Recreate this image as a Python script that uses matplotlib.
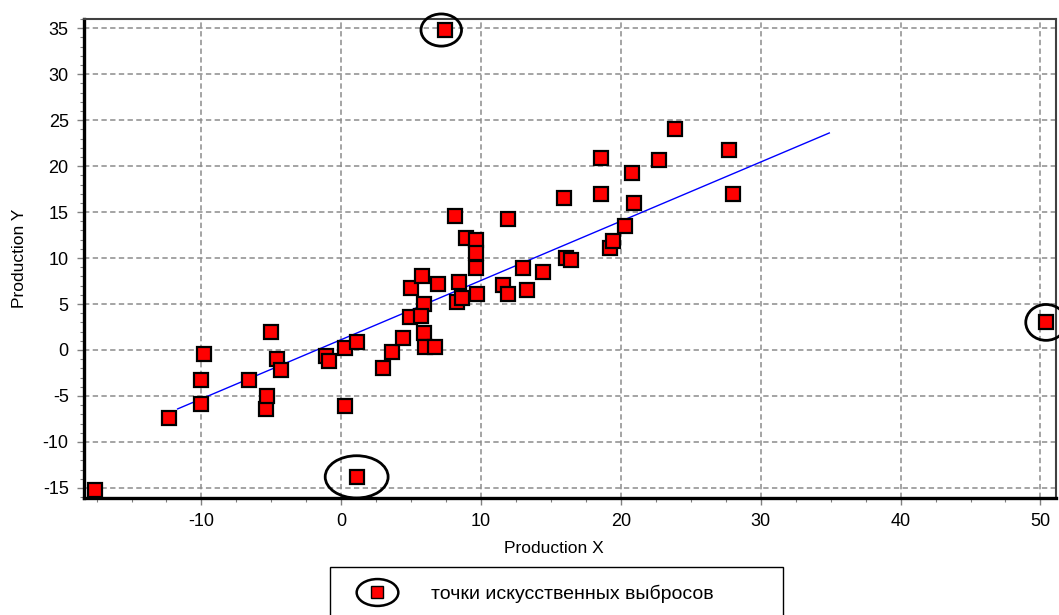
import numpy as np
import matplotlib.pyplot as plt
from matplotlib.lines import Line2D
from matplotlib.patches import Ellipse
from matplotlib.path import Path
from matplotlib.legend_handler import HandlerTuple
from matplotlib.ticker import MultipleLocator

plt.rcParams['font.family'] = ['Liberation Sans', 'DejaVu Sans']
plt.rcParams['axes.unicode_minus'] = False

# observed production values
prod_x = [-17.6, -12.3, -10.0, -10.0, -9.8, -6.6, -5.4, -5.3, -5.0, -4.6, -4.3,
          -1.1, -0.9, 0.3, 0.3, 1.1, 3.0, 3.6, 4.4, 4.9, 5.0, 5.8, 5.9, 5.7,
          5.9, 6.0, 6.7, 6.9, 8.1, 8.3, 8.6, 8.4, 8.9, 9.6, 9.6, 9.6, 9.7,
          11.6, 11.9, 11.9, 13.0, 13.3, 14.4, 15.9, 16.1, 16.4, 18.6, 18.6,
          19.2, 19.4, 20.3, 20.8, 20.9, 22.7, 23.9, 27.7, 28.0]
prod_y = [-15.2, -7.4, -5.9, -3.3, -0.4, -3.3, -6.4, -5.0, 2.0, -1.0, -2.2,
          -0.7, -1.2, 0.2, -6.1, 0.9, -2.0, -0.2, 1.3, 3.6, 6.7, 8.0, 5.0, 3.7,
          1.8, 0.3, 0.3, 7.2, 14.6, 5.2, 5.7, 7.4, 12.2, 12.0, 10.5, 8.9, 6.1,
          7.1, 6.1, 14.3, 8.9, 6.5, 8.5, 16.5, 10.0, 9.8, 20.9, 17.0,
          11.1, 11.9, 13.5, 19.2, 16.0, 20.7, 24.0, 21.8, 17.0]

# artificial outliers (circled)
out_x = [7.4, 1.1, 50.4]
out_y = [34.8, -13.8, 3.0]

# regression line
fit_slope = 0.644
fit_intercept = 1.13
fit_range = [-11.7, 34.9]

fig = plt.figure(figsize=(10.59, 6.15), dpi=100)
ax = fig.add_axes([0.0793, 0.1902, 0.9177, 0.7789])

ax.set_xlim(-18.4, 51.1)
ax.set_ylim(-16.1, 36.0)

fx = np.array(fit_range)
ax.plot(fx, fit_slope * fx + fit_intercept, color='#0000ff', lw=1.0, zorder=2)

all_x = prod_x + out_x
all_y = prod_y + out_y
ax.plot(all_x, all_y, ls='none', marker='s', ms=10.5, mfc='#ff0000',
        mec='black', mew=1.6, zorder=3, clip_on=False)

# ellipses around the outliers
ell_w = [2.9, 4.5, 2.9]
ell_h = [3.5, 4.6, 3.9]
ell_dx = [-0.25, 0.0, 0.0]
for x, y, w, h, dx in zip(out_x, out_y, ell_w, ell_h, ell_dx):
    ax.add_patch(Ellipse((x + dx, y), w, h, fill=False, ec='black', lw=2.0,
                         zorder=4, clip_on=False))

ax.xaxis.set_major_locator(MultipleLocator(10))
ax.xaxis.set_minor_locator(MultipleLocator(2.5))
ax.yaxis.set_major_locator(MultipleLocator(5))
ax.yaxis.set_minor_locator(MultipleLocator(1))

ax.grid(True, which='major', color='#8c8c8c', ls=(0, (3.5, 2.2)), lw=1.1)
ax.set_axisbelow(True)

ax.tick_params(which='major', direction='out', length=5, width=1.0,
               color='#808080', labelsize=13, pad=6)
ax.tick_params(which='minor', direction='out', length=3, width=0.8,
               color='#808080')

for side in ['left', 'bottom']:
    ax.spines[side].set_linewidth(2.4)
    ax.spines[side].set_color('black')
for side in ['top', 'right']:
    ax.spines[side].set_linewidth(1.5)
    ax.spines[side].set_color('#404040')

ax.set_xlabel('Production X', fontsize=12.5)
ax.set_ylabel('Production Y', fontsize=12.5)
ax.xaxis.set_label_coords(0.483, -0.09)
ax.yaxis.set_label_coords(-0.059, 0.5)

# legend marker: red square inside a flat ellipse
circ = Path.unit_circle()
oval = Path(circ.vertices * np.array([1.55, 1.0]), circ.codes)
h_oval = Line2D([], [], ls='none', marker=oval, ms=30, mfc='none',
                mec='black', mew=1.8)
h_sq = Line2D([], [], ls='none', marker='s', ms=8, mfc='#ff0000',
              mec='black', mew=1.0)
leg = fig.legend([(h_oval, h_sq)], ['точки искусственных выбросов'],
                 handler_map={tuple: HandlerTuple(ndivide=1)},
                 loc='upper left', bbox_to_anchor=(0.3116, 0.078, 0.4278, 0.0),
                 mode='expand', fancybox=False, edgecolor='black',
                 framealpha=1, fontsize=14, handlelength=3.0,
                 handletextpad=1.3, borderpad=0.9, borderaxespad=0)
leg.get_frame().set_linewidth(1.0)

fig.savefig('out.png', dpi=100)
